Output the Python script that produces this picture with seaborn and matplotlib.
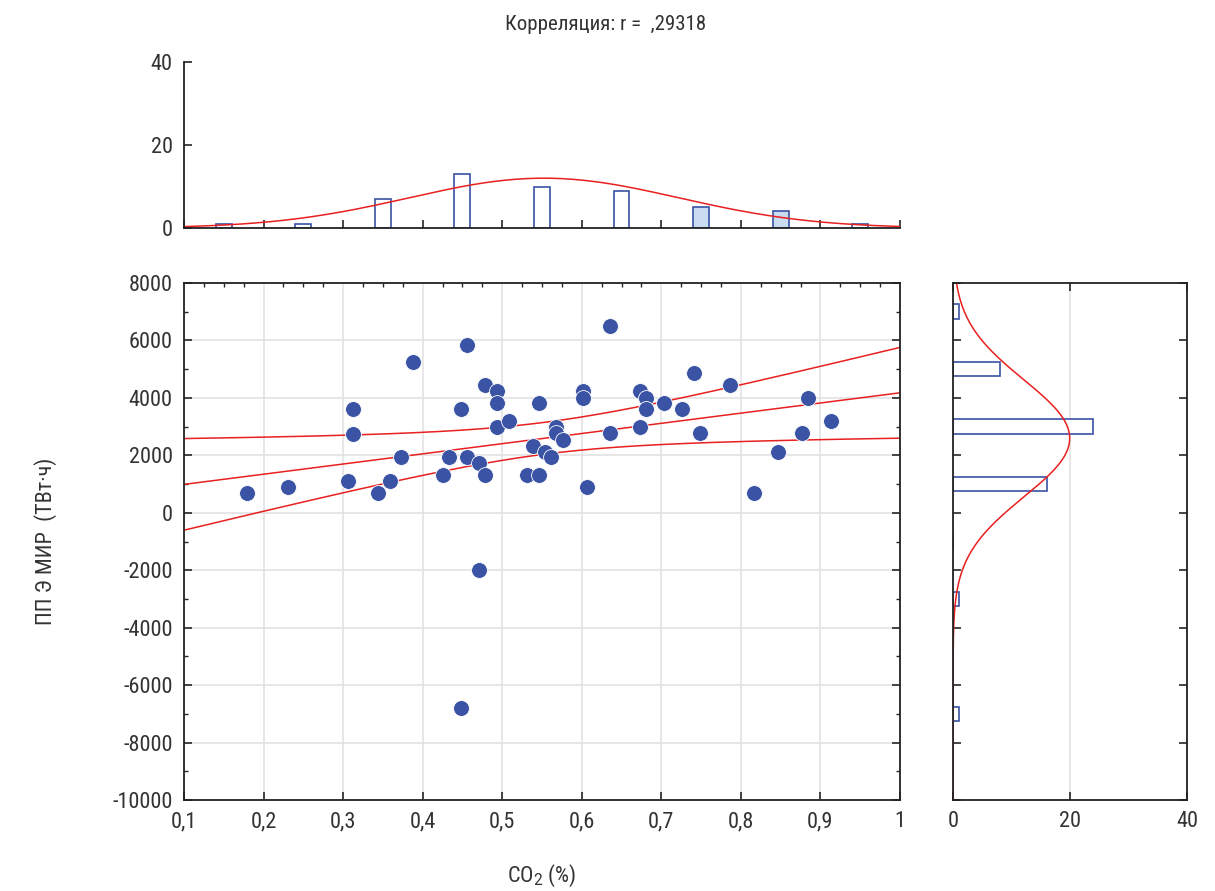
import numpy as np
import pandas as pd
import matplotlib
matplotlib.use('Agg')
import matplotlib.pyplot as plt
from matplotlib.ticker import MultipleLocator
import seaborn as sns

# CO2 (%) and ПП Э МИР (ТВт·ч)
co2 = [0.179, 0.231, 0.306, 0.312, 0.312, 0.344, 0.359, 0.373, 0.388, 0.426,
       0.433, 0.448, 0.456, 0.456, 0.471, 0.478, 0.493, 0.493, 0.493, 0.508,
       0.478, 0.471, 0.448, 0.531, 0.539, 0.546, 0.546, 0.554, 0.561, 0.568,
       0.568, 0.576, 0.601, 0.601, 0.607, 0.635, 0.635, 0.673, 0.681, 0.681,
       0.673, 0.703, 0.726, 0.741, 0.749, 0.786, 0.816, 0.847, 0.877, 0.885,
       0.913]
ppe = [700, 900, 1100, 3600, 2750, 700, 1100, 1940, 5240, 1300,
       1940, 3600, 5850, 1940, 1730, 4440, 4230, 3820, 2980, 3190,
       1300, -2000, -6780, 1300, 2340, 1300, 3820, 2130, 1940, 2980,
       2760, 2550, 4230, 4000, 900, 6500, 2760, 4230, 4000, 3600,
       2980, 3820, 3600, 4870, 2760, 4440, 700, 2130, 2760, 4000,
       3190]

x_ticks = [0.1, 0.2, 0.3, 0.4, 0.5, 0.6, 0.7, 0.8, 0.9, 1.0]
x_labels = ['0,1', '0,2', '0,3', '0,4', '0,5', '0,6', '0,7', '0,8', '0,9', '1']
y_ticks = [-10000, -8000, -6000, -4000, -2000, 0, 2000, 4000, 6000, 8000]
title = 'Корреляция: r =  ,29318'

df = pd.DataFrame({'co2': co2, 'ppe': ppe})

sns.set_style('white')
plt.rcParams['font.family'] = ['Roboto Condensed', 'Liberation Sans Narrow', 'Roboto', 'DejaVu Sans']
plt.rcParams['mathtext.fontset'] = 'custom'
plt.rcParams['mathtext.rm'] = 'Roboto'

blue = '#3a53a4'
red = '#e8201f'
grid = '#e3e3e3'
txt = '#333333'

fig = plt.figure(figsize=(12.15, 8.91), dpi=100)
ax = fig.add_axes([0.1514, 0.1021, 0.5893, 0.5803])
axt = fig.add_axes([0.1514, 0.7441, 0.5893, 0.1863])
axr = fig.add_axes([0.7844, 0.1021, 0.1926, 0.5803])

# scatter
ax.grid(True, color=grid, lw=1.2)
ax.set_axisbelow(True)
sns.scatterplot(data=df, x='co2', y='ppe', ax=ax, s=130, color=blue,
                edgecolor='white', linewidth=0.6, zorder=3)

# regression line with 95% band for the mean
x = np.array(co2)
y = np.array(ppe, dtype=float)
n = len(x)
b, a = np.polyfit(x, y, 1)
xs = np.linspace(0.1, 1.0, 200)
yh = a + b * xs
resid = y - (a + b * x)
s = np.sqrt(np.sum(resid ** 2) / (n - 2))
sxx = np.sum((x - x.mean()) ** 2)
se = s * np.sqrt(1 / n + (xs - x.mean()) ** 2 / sxx)
t = 2.01
for line in (yh, yh + t * se, yh - t * se):
    ax.plot(xs, line, color=red, lw=1.1, zorder=2)

ax.set_xlim(0.1, 1.0)
ax.set_ylim(-10000, 8000)
ax.set_xticks(x_ticks)
ax.set_xticklabels(x_labels)
ax.set_yticks(y_ticks)
ax.set_yticklabels([str(v) for v in y_ticks])
ax.yaxis.set_minor_locator(MultipleLocator(1000))
ax.xaxis.set_minor_locator(MultipleLocator(0.025))
ax.tick_params(which='major', direction='in', length=6, width=1.2, labelsize=16,
               labelcolor=txt, left=True, right=True, bottom=True, top=False, pad=8)
ax.tick_params(which='minor', direction='in', length=3, width=1,
               left=True, right=True, bottom=False, top=True)
for sp in ax.spines.values():
    sp.set_visible(True)
    sp.set_color('#222222')
    sp.set_linewidth(1.3)
ax.set_xlabel('CO$_2$ (%)', fontsize=16, color=txt, labelpad=22)
ax.set_ylabel('ПП Э МИР  (ТВт·ч)', fontsize=16, color=txt, labelpad=40)

# top histogram
sns.histplot(x=co2, bins=np.arange(0.1, 1.05, 0.1), shrink=0.2, ax=axt,
             facecolor='white', edgecolor=blue, linewidth=1.2, alpha=1)
for p in axt.patches:
    if p.get_x() > 0.7:
        if p.get_x() < 0.9:
            p.set_facecolor('#c9dcf0')
mx, sx = x.mean(), x.std(ddof=1)
xc = np.linspace(0.1, 1.0, 300)
axt.plot(xc, n * 0.1 * np.exp(-0.5 * ((xc - mx) / sx) ** 2) / (sx * np.sqrt(2 * np.pi)),
         color=red, lw=1.1)
axt.set_xlim(0.1, 1.0)
axt.set_ylim(0, 40)
axt.set_yticks([0, 20, 40])
axt.set_xticks(x_ticks)
axt.set_xticklabels([])
axt.set_ylabel('')
axt.tick_params(direction='in', length=6, width=1.2, labelsize=16, labelcolor=txt,
                left=True, bottom=True, pad=8)
axt.spines['top'].set_visible(False)
axt.spines['right'].set_visible(False)
for k in ('left', 'bottom'):
    axt.spines[k].set_color('#222222')
    axt.spines[k].set_linewidth(1.3)

# right histogram
axr.grid(True, axis='x', color=grid, lw=1.2)
sns.histplot(y=ppe, bins=np.arange(-10000, 8001, 2000) + 1, shrink=0.25, ax=axr,
             facecolor='white', edgecolor=blue, linewidth=1.2, alpha=1)
my, sy = y.mean(), y.std(ddof=1)
yc = np.linspace(-10000, 8000, 400)
axr.plot(n * 2000 * np.exp(-0.5 * ((yc - my) / sy) ** 2) / (sy * np.sqrt(2 * np.pi)), yc,
         color=red, lw=1.1)
axr.set_xlim(0, 40)
axr.set_ylim(-10000, 8000)
axr.set_xticks([0, 20, 40])
axr.set_yticks(y_ticks)
axr.set_yticklabels([])
axr.set_xlabel('')
axr.tick_params(direction='in', length=6, width=1.2, labelsize=16, labelcolor=txt,
                left=True, right=True, bottom=True, top=True, pad=8)
for sp in axr.spines.values():
    sp.set_visible(True)
    sp.set_color('#222222')
    sp.set_linewidth(1.3)

fig.text(0.498, 0.972, title, ha='center', va='center', fontsize=15, color=txt)

plt.savefig('out.png', dpi=100)
